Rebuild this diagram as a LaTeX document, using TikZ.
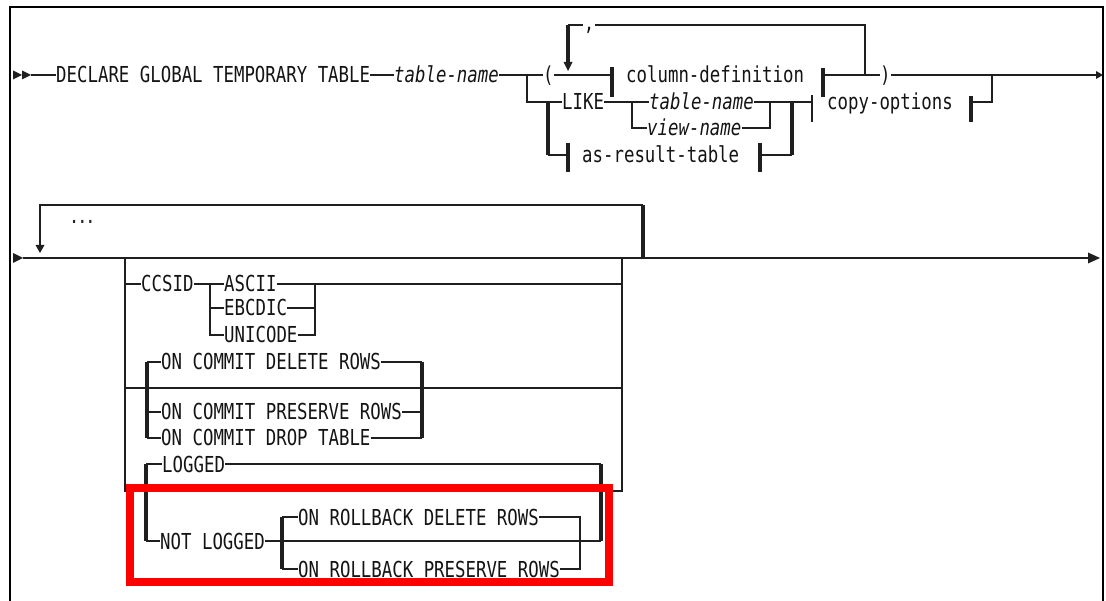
\documentclass[tikz,border=0pt]{standalone}
\usepackage{fontspec}
\newfontfamily\sqlfam[FakeStretch=0.79]{DejaVu Sans Mono}
\newcommand\sqlfont{\sqlfam\fontsize{22}{22}\selectfont}
\newcommand\sqlsmall{\sqlfam\bfseries\fontsize{17}{17}\selectfont}
\begin{document}
\begin{tikzpicture}[x=1pt,y=-1pt,
  ln/.style={line width=1.8pt, draw=black!88},
  tk/.style={line width=4pt, draw=black!88},
  br/.style={line width=3.5pt, draw=black!88},
  brthin/.style={line width=2.5pt, draw=black!88},
  tx/.style={inner sep=0pt, anchor=west, text height=16pt, text depth=0pt, font=\sqlfont, text=black!92},
  ti/.style={tx, font=\sqlfont\itshape},
  tipf/.style={fill=black!88, draw=none}]
\useasboundingbox (0,0) rectangle (1106,601);
\fill[white] (0,0) rectangle (1106,601);
% frame
\draw[line width=1.5pt] (10,601) -- (10,7) -- (1103,7) -- (1103,601);

% ===== Row 1 =====
\node[tx] (decl) at (56,75) {DECLARE GLOBAL TEMPORARY TABLE};
\node[ti] (tnA) at (394,75) {table-name};
\node[tx] (lp) at (543,75) {(};
\node[tx] (cdef) at (626,75) {column-definition};
\node[tx] (rp) at (880,75) {)};
\node[tx] (like) at (562,102) {LIKE};
\node[ti] (tnB) at (649,102) {table-name};
\node[ti] (vname) at (647,128) {view-name};
\node[tx] (copt) at (827,102) {copy-options};
\node[tx] (art) at (582,155) {as-result-table};

\coordinate (s1) at (31,75);
\coordinate (jA) at (527,75);
\coordinate (b1) at (612,75);
\coordinate (b2) at (823,75);
\coordinate (jL) at (865,75);
\coordinate (jLt) at (865,25);
\coordinate (jRt) at (568,25);
\coordinate (aTip) at (568,63);
\coordinate (jC) at (992,75);
\coordinate (e1) at (1097,75);
\coordinate (jV) at (632,102);
\coordinate (jT) at (770,102);
\coordinate (jK) at (792,102);
\coordinate (jKb) at (792,155);
\coordinate (b3) at (812,102);
\coordinate (b4) at (971,102);
\coordinate (jS) at (548,102);
\coordinate (jSb) at (548,155);
\coordinate (b5) at (568,155);
\coordinate (b6) at (760,155);

\fill[tipf] (13,70.5) -- (22,75) -- (13,79.5) -- cycle;
\fill[tipf] (22,70.5) -- (31,75) -- (22,79.5) -- cycle;
\draw[ln] (s1) -- (decl.west);
\draw[ln] (decl.east) -- (tnA.west);
\draw[ln] (tnA.east) -- (lp.west);
\draw[ln] (lp.east) -- (b1);
\draw[ln] (b2) -- (rp.west);
\draw[ln] (rp.east) -- (e1);
\fill[tipf] (1096,71) -- (1103,75) -- (1096,79) -- cycle;
\draw[ln] (jA) |- (like.west);
\draw[ln] (like.east) -- (tnB.west);
\draw[ln] (jV) |- (vname.west);
\draw[ln] (tnB.east) -- (b3);
\draw[ln] (vname.east) -| (jT);
\draw[tk] (jS) -- (jSb);
\draw[ln] (jSb) -- (b5);
\draw[ln] (b6) -- (jKb);
\draw[tk] (jKb) -- (jK);
\draw[ln] (b4) -| (jC);
% repeat loop with comma
\draw[ln] (jL) -- (jLt) -- (jRt);
\draw[tk] (jRt) -- (aTip);
\fill[tipf] (563.5,62) -- (572.5,62) -- (568,71) -- cycle;
\fill[white] (583,22) rectangle (595,28);
\node[anchor=base, inner sep=0pt, font=\sqlfont, text=black!92] (comma) at (589,31) {,};
% fragment bars
\draw[br] (612,67) -- (612,97);
\draw[br] (823,68) -- (823,97);
\draw[brthin] (812,95) -- (812,122);
\draw[br] (971,96) -- (971,122);
\draw[br] (568,143) -- (568,172);
\draw[br] (760,143) -- (760,172);

% ===== Row 2 =====
\coordinate (s2) at (23,258);
\coordinate (e2) at (1088,258);
\draw[ln] (s2) -- (e2);
\fill[tipf] (13,253) -- (23,258) -- (13,263) -- cycle;
\fill[tipf] (1088,252.5) -- (1100,258) -- (1088,263.5) -- cycle;
% repeat loop
\coordinate (lpR) at (643,258);
\coordinate (lpRt) at (643,205);
\coordinate (lpLt) at (40,205);
\coordinate (lpTip) at (40,245);
\draw[tk] (lpR) -- (lpRt);
\draw[ln] (lpRt) -- (lpLt) -- (lpTip);
\fill[tipf] (35.5,245) -- (44.5,245) -- (40,253) -- cycle;
\node[inner sep=0pt, anchor=base west, font=\sqlsmall, text=black!85] (dots) at (70,224) {...};

% group frame
\coordinate (gL) at (125,258);
\coordinate (gLb) at (125,491);
\coordinate (gR) at (622,258);
\coordinate (gRb) at (622,491);
\draw[ln] (gL) -- (gLb) -- (gRb) -- (gR);

% CCSID
\node[tx] (ccsid) at (141,284) {CCSID};
\node[tx] (ascii) at (224,284) {ASCII};
\node[tx] (ebcdic) at (224,308) {EBCDIC};
\node[tx] (unic) at (224,335) {UNICODE};
\coordinate (gC1) at (125,284);
\coordinate (cs) at (210,284);
\coordinate (ce) at (315,284);
\coordinate (gC2) at (622,284);
\draw[ln] (gC1) -- (ccsid.west);
\draw[ln] (ccsid.east) -- (cs) -- (ascii.west);
\draw[ln] (cs) |- (unic.west);
\draw[ln] (cs |- ebcdic.west) -- (ebcdic.west);
\draw[ln] (ascii.east) -- (gC2);
\draw[ln] (ebcdic.east) -- (ebcdic.east -| ce);
\draw[ln] (unic.east) -| (ce);

% ON COMMIT
\node[tx] (ocdel) at (161,362) {ON COMMIT DELETE ROWS};
\node[tx] (ocpres) at (161,412) {ON COMMIT PRESERVE ROWS};
\node[tx] (ocdrop) at (161,438) {ON COMMIT DROP TABLE};
\coordinate (oc1) at (147,362);
\coordinate (oc1b) at (147,438);
\coordinate (oc2) at (422,362);
\coordinate (oc2b) at (422,438);
\coordinate (ocT1) at (125,388);
\coordinate (ocT2) at (622,388);
\draw[ln] (ocT1) -- (ocT2);
\draw[tk] (oc1) -- (oc1b);
\draw[ln] (oc1) -- (ocdel.west);
\draw[ln] (ocpres.west -| oc1) -- (ocpres.west);
\draw[ln] (ocdrop.west -| oc1) -- (ocdrop.west);
\draw[ln] (ocdel.east) -- (oc2);
\draw[ln] (ocpres.east) -- (ocpres.east -| oc2);
\draw[ln] (ocdrop.east) -- (ocdrop.east -| oc2);
\draw[tk] (oc2) -- (oc2b);

% LOGGED
\node[tx] (logged) at (162,464) {LOGGED};
\node[tx] (nlog) at (160,541) {NOT LOGGED};
\node[tx] (ordel) at (298,517) {ON ROLLBACK DELETE ROWS};
\node[tx] (orpres) at (298,569) {ON ROLLBACK PRESERVE ROWS};
\coordinate (lg1) at (146,464);
\coordinate (lg1b) at (146,541);
\coordinate (lg2) at (601,464);
\coordinate (lg2b) at (601,541);
\coordinate (rb1) at (282,517);
\coordinate (rb1b) at (282,569);
\coordinate (rb2) at (580,517);
\draw[tk] (lg1) -- (lg1b);
\draw[ln] (lg1) -- (logged.west);
\draw[ln] (logged.east) -- (lg2);
\draw[tk] (lg2) -- (lg2b);
\draw[ln] (nlog.west -| lg1) -- (nlog.west);
\draw[ln] (nlog.east) -- (lg2b);
\draw[tk] (rb1) -- (rb1b);
\draw[ln] (rb1) -- (ordel.west);
\draw[ln] (rb1b) -- (orpres.west);
\draw[ln] (ordel.east) -- (rb2) |- (orpres.east);

% highlight
\draw[red, line width=8.5pt] (130,488) rectangle (609,582);
\end{tikzpicture}
\end{document}
